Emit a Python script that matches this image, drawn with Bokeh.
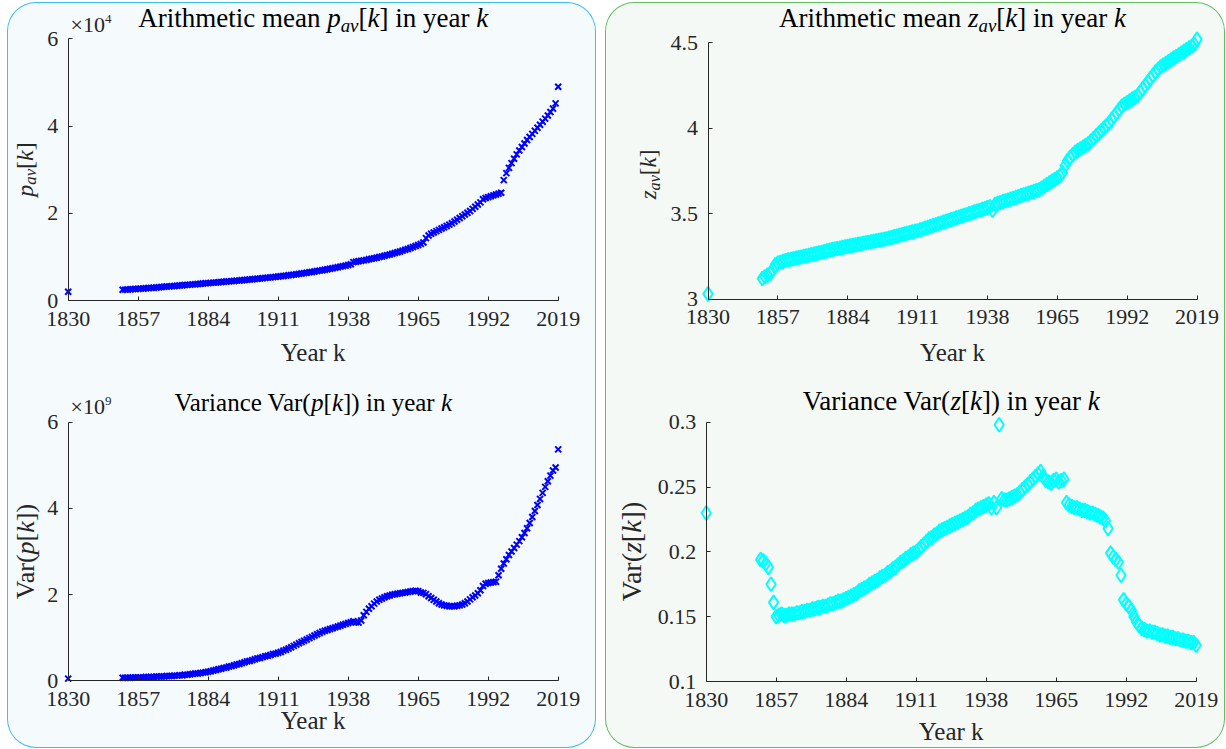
import math
from bokeh.plotting import figure
from bokeh.models import Label, FixedTicker, Range1d, Spacer, NumeralTickFormatter
from bokeh.layouts import row, column
from bokeh.embed import file_html
from bokeh.resources import INLINE

# ---------------- data ----------------
years = [1830] + list(range(1851, 2020))

# arithmetic mean p_av[k], in units of 1e4
p_av_e4 = [0.20,
    0.245, 0.249, 0.253, 0.257, 0.261, 0.265, 0.269, 0.273, 0.277, 0.281,
    0.285, 0.289, 0.294, 0.299, 0.304, 0.309, 0.314, 0.319, 0.324, 0.329,
    0.334, 0.339, 0.344, 0.349, 0.354, 0.359, 0.364, 0.369, 0.374, 0.379,
    0.384, 0.389, 0.394, 0.399, 0.404, 0.409, 0.414, 0.419, 0.424, 0.429,
    0.434, 0.439, 0.444, 0.449, 0.455, 0.460, 0.466, 0.471, 0.477, 0.482,
    0.488, 0.494, 0.500, 0.506, 0.512, 0.518, 0.524, 0.530, 0.536, 0.542,
    0.549, 0.556, 0.563, 0.570, 0.578, 0.586, 0.594, 0.602, 0.610, 0.619,
    0.628, 0.637, 0.646, 0.655, 0.665, 0.675, 0.685, 0.695, 0.706, 0.717,
    0.728, 0.740, 0.752, 0.764, 0.776, 0.788, 0.800, 0.815, 0.830, 0.880,
    0.890, 0.900, 0.910, 0.920, 0.932, 0.944, 0.956, 0.969, 0.982, 0.996,
    1.010, 1.025, 1.040, 1.056, 1.072, 1.089, 1.106, 1.124, 1.143, 1.162,
    1.182, 1.203, 1.225, 1.248, 1.272, 1.298, 1.330, 1.430, 1.490, 1.530,
    1.560, 1.590, 1.620, 1.650, 1.680, 1.710, 1.740, 1.770, 1.810, 1.850,
    1.890, 1.930, 1.970, 2.010, 2.050, 2.100, 2.150, 2.200, 2.250, 2.320,
    2.350, 2.370, 2.390, 2.410, 2.430, 2.450, 2.470, 2.760, 2.920, 3.040,
    3.150, 3.250, 3.350, 3.440, 3.520, 3.600, 3.680, 3.750, 3.820, 3.890,
    3.960, 4.030, 4.100, 4.170, 4.240, 4.320, 4.400, 4.520, 4.900]

# variance Var(p[k]), in units of 1e9
var_p_e9 = [0.05,
    0.07, 0.07, 0.07, 0.07, 0.08, 0.08, 0.08, 0.08, 0.08, 0.09,
    0.09, 0.09, 0.09, 0.10, 0.10, 0.10, 0.10, 0.11, 0.11, 0.11,
    0.12, 0.12, 0.13, 0.13, 0.14, 0.14, 0.15, 0.16, 0.17, 0.17,
    0.18, 0.19, 0.20, 0.21, 0.22, 0.24, 0.25, 0.27, 0.28, 0.30,
    0.31, 0.33, 0.34, 0.36, 0.38, 0.39, 0.41, 0.43, 0.45, 0.46,
    0.48, 0.50, 0.52, 0.53, 0.55, 0.57, 0.58, 0.60, 0.62, 0.63,
    0.65, 0.67, 0.70, 0.72, 0.75, 0.78, 0.81, 0.84, 0.87, 0.90,
    0.93, 0.96, 0.99, 1.02, 1.05, 1.08, 1.11, 1.14, 1.16, 1.18,
    1.20, 1.22, 1.24, 1.26, 1.28, 1.30, 1.32, 1.34, 1.36, 1.38,
    1.36, 1.35, 1.40, 1.52, 1.60, 1.67, 1.73, 1.79, 1.84, 1.88,
    1.91, 1.94, 1.96, 1.98, 2.00, 2.01, 2.02, 2.03, 2.04, 2.05,
    2.06, 2.07, 2.08, 2.09, 2.08, 2.05, 2.04, 2.01, 1.96, 1.92,
    1.88, 1.84, 1.80, 1.77, 1.75, 1.74, 1.73, 1.73, 1.73, 1.74,
    1.75, 1.77, 1.80, 1.84, 1.89, 1.94, 1.98, 2.03, 2.10, 2.20,
    2.25, 2.27, 2.28, 2.29, 2.30, 2.45, 2.60, 2.72, 2.82, 2.92,
    3.00, 3.08, 3.16, 3.24, 3.33, 3.43, 3.54, 3.66, 3.80, 3.94,
    4.08, 4.22, 4.36, 4.50, 4.63, 4.76, 4.88, 4.95, 5.37]

# arithmetic mean z_av[k]
z_av = [3.03,
    3.12, 3.13, 3.14, 3.15, 3.17, 3.20, 3.21, 3.215, 3.22, 3.225,
    3.23, 3.233, 3.236, 3.24, 3.243, 3.246, 3.25, 3.253, 3.256, 3.26,
    3.263, 3.267, 3.27, 3.274, 3.278, 3.282, 3.286, 3.29, 3.293, 3.296,
    3.299, 3.302, 3.305, 3.308, 3.311, 3.314, 3.317, 3.32, 3.323, 3.326,
    3.329, 3.332, 3.335, 3.338, 3.341, 3.344, 3.347, 3.35, 3.353, 3.357,
    3.361, 3.365, 3.369, 3.373, 3.377, 3.381, 3.385, 3.389, 3.393, 3.397,
    3.40, 3.405, 3.41, 3.415, 3.42, 3.425, 3.43, 3.435, 3.44, 3.445,
    3.45, 3.455, 3.46, 3.465, 3.47, 3.475, 3.48, 3.485, 3.49, 3.495,
    3.50, 3.505, 3.51, 3.515, 3.52, 3.525, 3.53, 3.535, 3.54, 3.52,
    3.555, 3.56, 3.565, 3.57, 3.575, 3.58, 3.585, 3.59, 3.595, 3.60,
    3.605, 3.61, 3.615, 3.62, 3.625, 3.63, 3.635, 3.64, 3.65, 3.66,
    3.67, 3.68, 3.69, 3.70, 3.71, 3.72, 3.74, 3.78, 3.81, 3.83,
    3.845, 3.86, 3.87, 3.88, 3.89, 3.90, 3.91, 3.925, 3.94, 3.955,
    3.97, 3.985, 4.00, 4.015, 4.03, 4.05, 4.07, 4.09, 4.11, 4.13,
    4.14, 4.15, 4.16, 4.17, 4.18, 4.19, 4.21, 4.23, 4.25, 4.27,
    4.29, 4.31, 4.33, 4.345, 4.36, 4.37, 4.38, 4.39, 4.40, 4.41,
    4.42, 4.43, 4.44, 4.45, 4.46, 4.47, 4.48, 4.49, 4.52]

# variance Var(z[k])
var_z = [0.23,
    0.194, 0.193, 0.191, 0.188, 0.175, 0.161, 0.150, 0.151, 0.152, 0.151,
    0.151, 0.152, 0.152, 0.152, 0.153, 0.153, 0.154, 0.154, 0.155, 0.155,
    0.156, 0.156, 0.157, 0.157, 0.158, 0.158, 0.159, 0.160, 0.160, 0.161,
    0.162, 0.162, 0.163, 0.164, 0.165, 0.166, 0.167, 0.168, 0.170, 0.171,
    0.172, 0.173, 0.175, 0.176, 0.177, 0.178, 0.180, 0.181, 0.182, 0.184,
    0.185, 0.187, 0.188, 0.190, 0.192, 0.193, 0.195, 0.196, 0.198, 0.199,
    0.200, 0.202, 0.204, 0.206, 0.208, 0.210, 0.211, 0.213, 0.214, 0.216,
    0.217, 0.218, 0.219, 0.220, 0.221, 0.222, 0.223, 0.224, 0.225, 0.226,
    0.227, 0.229, 0.230, 0.232, 0.233, 0.234, 0.235, 0.236, 0.237, 0.234,
    0.238, 0.234, 0.298, 0.241, 0.240, 0.240, 0.241, 0.242, 0.243, 0.244,
    0.246, 0.248, 0.250, 0.252, 0.254, 0.256, 0.258, 0.260, 0.262, 0.258,
    0.255, 0.254, 0.253, 0.255, 0.256, 0.254, 0.255, 0.256, 0.238, 0.236,
    0.235, 0.234, 0.234, 0.233, 0.232, 0.232, 0.231, 0.230, 0.230, 0.229,
    0.228, 0.227, 0.226, 0.224, 0.218, 0.199, 0.196, 0.194, 0.192, 0.182,
    0.163, 0.160, 0.158, 0.155, 0.150, 0.146, 0.143, 0.141, 0.140, 0.139,
    0.139, 0.138, 0.138, 0.137, 0.136, 0.136, 0.135, 0.135, 0.134, 0.134,
    0.133, 0.133, 0.132, 0.132, 0.131, 0.131, 0.130, 0.130, 0.128]

x_ticks = [1830, 1857, 1884, 1911, 1938, 1965, 1992, 2019]
p_av_ticks = [0, 2, 4, 6]
var_p_ticks = [0, 2, 4, 6]
z_av_ticks = [3, 3.5, 4, 4.5]
var_z_ticks = [0.1, 0.15, 0.2, 0.25, 0.3]

# ---------------- styling helpers ----------------
FONT = "Liberation Serif"
AXC = "#262626"
BLUE = "#0000ff"
CYAN = "#00ffff"
MID = 0.3375   # middle of the text box above the baseline, in em

# Times / Liberation Serif advance widths (1/1000 em) and a few kerning pairs
REG = {' ': 250, 'A': 722, 'V': 722, 'Y': 722, 'a': 444, 'c': 444, 'e': 444, 'h': 500,
       'i': 278, 'm': 778, 'n': 500, 'r': 333, 't': 278, 'y': 500, '(': 333, ')': 333,
       '[': 333, ']': 333, 'k': 500, '×': 564, '.': 250}
for d in "0123456789":
    REG[d] = 500
ITA = {'p': 500, 'k': 444, 'z': 389, 'a': 500, 'v': 444, ' ': 250}
KERN = {('V', 'a'): -111, ('Y', 'e'): -100}


def tw(s, italic):
    d = ITA if italic else REG
    w = sum(d.get(ch, 500) for ch in s)
    w += sum(KERN.get((a, b), 0) for a, b in zip(s, s[1:]))
    return w / 1000.0


class Panel:
    """A figure whose frame is the whole canvas; the axes box is placed at
    page pixels (axL..axR, axT..axB) through the ranges."""

    def __init__(self, fx, fy, w, h, axL, axR, axT, axB, xr, yr, yticks, yfmt):
        sx = (xr[1] - xr[0]) / (axR - axL)
        sy = (yr[1] - yr[0]) / (axB - axT)
        self.fx, self.fy, self.h = fx, fy, h
        p = figure(width=w, height=h, output_backend="svg", toolbar_location=None, title=None,
                   x_range=Range1d(xr[0] - (axL - fx) * sx, xr[1] + (fx + w - axR) * sx),
                   y_range=Range1d(yr[0] - (fy + h - axB) * sy, yr[1] + (axT - fy) * sy),
                   min_border=0)
        p.background_fill_alpha = 0
        p.border_fill_alpha = 0
        p.outline_line_color = None
        p.grid.visible = False
        for ax in (p.xaxis[0], p.yaxis[0]):
            ax.axis_line_color = AXC
            ax.axis_line_width = 1
            ax.major_tick_line_color = AXC
            ax.major_tick_in = 4
            ax.major_tick_out = 0
            ax.minor_tick_line_color = None
            ax.major_label_text_font = FONT
            ax.major_label_text_font_size = "22px"
            ax.major_label_text_color = AXC
        p.xaxis[0].ticker = FixedTicker(ticks=x_ticks)
        p.xaxis[0].fixed_location = yr[0]
        p.xaxis[0].bounds = (xr[0], xr[1])
        p.xaxis[0].major_label_standoff = 11
        p.yaxis[0].ticker = FixedTicker(ticks=yticks)
        p.yaxis[0].fixed_location = xr[0]
        p.yaxis[0].bounds = (yr[0], yr[1])
        p.yaxis[0].major_label_standoff = 10
        if yfmt:
            p.yaxis[0].formatter = NumeralTickFormatter(format=yfmt)
        self.p = p

    def _label(self, x, y, t, it, s, color, angle=0.0):
        self.p.add_layout(Label(x=x, y=y, x_units="screen", y_units="screen", text=t,
                                text_font=FONT, text_font_size=f"{s:.1f}px",
                                text_font_style="italic" if it else "normal",
                                text_color=color, text_align="left",
                                text_baseline="middle", angle=angle))

    def rich(self, pieces, px, py, angle=0.0, color="#000000"):
        """pieces: (text, italic, size_px, rise_px); px/py: page coords of the
        centre along the text and of the baseline."""
        cx = px - self.fx
        cy = self.fy + self.h - py
        total = sum(tw(t, it) * s for t, it, s, r in pieces)
        pos = -total / 2
        for t, it, s, r in pieces:
            lead = len(t) - len(t.lstrip(' '))
            pos += lead * tw(' ', it) * s
            txt = t.lstrip(' ')
            if angle == 0:
                self._label(cx + pos, cy + r + MID * s, txt, it, s, color)
            else:
                self._label(cx - r - MID * s, cy + pos, txt, it, s, color, angle)
            pos += tw(txt, it) * s

    def left_text(self, pieces, px, py, color=AXC):
        x = px - self.fx
        y = self.fy + self.h - py
        for t, it, s, r in pieces:
            self._label(x, y + r + MID * s, t, it, s, color)
            x += tw(t, it) * s


# ---------------- geometry (page pixels) ----------------
OX, OY = 8, 3
LW, RW = 587, 618
GAP = 11
TH, BH = 372, 372
LX, RX = OX, OX + LW + GAP
TY, BY = OY, OY + TH

tl = Panel(LX, TY, LW, TH, 67.7, 557.7, 38.3, 300.0, (1830, 2019), (0, 6), p_av_ticks, None)
bl = Panel(LX, BY, LW, BH, 67.7, 557.7, 421.7, 680.3, (1830, 2019), (0, 6), var_p_ticks, None)
tr = Panel(RX, TY, RW, TH, 707.5, 1196.5, 42.3, 298.5, (1830, 2019), (3, 4.5), z_av_ticks, "0.[0]")
br = Panel(RX, BY, RW, BH, 705.7, 1195.7, 421.7, 681.0, (1830, 2019), (0.1, 0.3), var_z_ticks, "0.[00]")

tl.p.scatter(years, p_av_e4, marker="x", size=8.5, line_color=BLUE, line_width=2)
bl.p.scatter(years, var_p_e9, marker="x", size=8.5, line_color=BLUE, line_width=2)
tr.p.scatter(years, z_av, marker="diamond", size=14, line_color=CYAN, line_width=2, fill_color=None)
br.p.scatter(years, var_z, marker="diamond", size=14, line_color=CYAN, line_width=2, fill_color=None)

# titles
T = 27
tl.rich([("Arithmetic mean ", False, T, 0), ("p", True, T, 0), ("av", True, T * 0.7, -T * 0.15),
         ("[", False, T, 0), ("k", True, T, 0), ("]", False, T, 0), (" in year ", False, T, 0),
         ("k", True, T, 0)], 312.7, 27)
tr.rich([("Arithmetic mean ", False, T, 0), ("z", True, T, 0), ("av", True, T * 0.7, -T * 0.15),
         ("[", False, T, 0), ("k", True, T, 0), ("]", False, T, 0), (" in year ", False, T, 0),
         ("k", True, T, 0)], 952, 27)
TB = 25
bl.rich([("Variance Var(", False, TB, 0), ("p", True, TB, 0), ("[", False, TB, 0), ("k", True, TB, 0),
         ("])", False, TB, 0), (" in year ", False, TB, 0), ("k", True, TB, 0)], 312.7, 410.5)
TB2 = 27
br.rich([("Variance Var(", False, TB2, 0), ("z", True, TB2, 0), ("[", False, TB2, 0), ("k", True, TB2, 0),
         ("])", False, TB2, 0), (" in year ", False, TB2, 0), ("k", True, TB2, 0)], 950.7, 409.5)

# x axis labels
tl.rich([("Year k", False, 25, 0)], 312.7, 360, color=AXC)
bl.rich([("Year k", False, 25, 0)], 312.7, 728, color=AXC)
tr.rich([("Year k", False, 25, 0)], 952, 360, color=AXC)
br.rich([("Year k", False, 25, 0)], 950.7, 739, color=AXC)

# y axis labels (rotated)
A = math.pi / 2
s1 = 24
tl.rich([("p", True, s1, 0), ("av", True, s1 * 0.7, -s1 * 0.15), ("[", False, s1, 0),
         ("k", True, s1, 0), ("]", False, s1, 0)], 32.5, 169, angle=A, color=AXC)
s2 = 23
tr.rich([("z", True, s2, 0), ("av", True, s2 * 0.7, -s2 * 0.15), ("[", False, s2, 0),
         ("k", True, s2, 0), ("]", False, s2, 0)], 655.5, 174, angle=A, color=AXC)
s3 = 26
bl.rich([("Var(", False, s3, 0), ("p", True, s3, 0), ("[", False, s3, 0), ("k", True, s3, 0),
         ("])", False, s3, 0)], 34, 551, angle=A, color=AXC)
s4 = 28
br.rich([("Var(", False, s4, 0), ("z", True, s4, 0), ("[", False, s4, 0), ("k", True, s4, 0),
         ("])", False, s4, 0)], 640, 551, angle=A, color=AXC)

# exponent multipliers
tl.left_text([("×10", False, 22, 0), ("4", False, 13, 8.4)], 70, 31.7)
bl.left_text([("×10", False, 22, 0), ("9", False, 13, 8.4)], 70, 413.3)

left = column(tl.p, bl.p, styles={"background-color": "#f5fafd", "border-radius": "28px",
                                  "box-shadow": "0 0 0 1px #3fbdf0"})
right = column(tr.p, br.p, styles={"background-color": "#f5f9f5", "border-radius": "28px",
                                   "box-shadow": "0 0 0 1px #62bf62"})
layout = column(Spacer(height=OY), row(Spacer(width=OX), left, Spacer(width=GAP), right))

open("out.html", "w").write(file_html(layout, INLINE))
